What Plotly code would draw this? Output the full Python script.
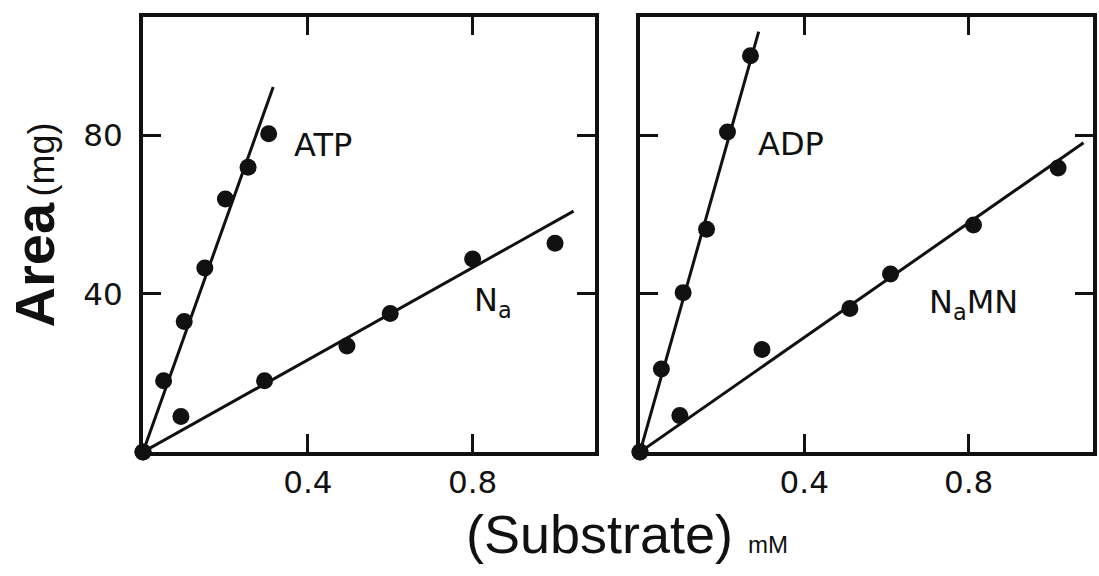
import plotly.graph_objects as go

# ---- data ----
atp_x = [0.0, 0.05, 0.10, 0.15, 0.20, 0.255, 0.305]
atp_y = [0.0, 18.0, 33.0, 46.5, 64.0, 72.0, 80.5]
atp_fit_x = [0.0, 0.316]
atp_fit_y = [0.0, 92.3]

na_x = [0.0, 0.092, 0.295, 0.495, 0.60, 0.80, 1.0]
na_y = [0.0, 9.0, 18.0, 26.8, 35.0, 48.8, 52.8]
na_fit_x = [0.0, 1.045]
na_fit_y = [0.0, 60.9]

adp_x = [0.0, 0.052, 0.105, 0.162, 0.213, 0.269]
adp_y = [0.0, 21.0, 40.3, 56.3, 80.9, 100.2]
adp_fit_x = [0.0, 0.289]
adp_fit_y = [0.0, 106.3]

namn_x = [0.0, 0.097, 0.297, 0.511, 0.61, 0.812, 1.018]
namn_y = [0.0, 9.2, 25.9, 36.3, 45.0, 57.4, 71.8]
namn_fit_x = [0.0, 1.08]
namn_fit_y = [0.0, 78.2]

x_ticks = [0.4, 0.8]
x_ticklabels = ["0.4", "0.8"]
y_ticks = [40, 80]
y_ticklabels = ["40", "80"]

INK = "#111111"
W, H = 1099, 576

fig = go.Figure()

def add_series(xs, ys, fx, fy, xa, ya):
    fig.add_trace(go.Scatter(x=fx, y=fy, mode="lines", xaxis=xa, yaxis=ya,
                             line=dict(color=INK, width=3), cliponaxis=False,
                             hoverinfo="skip"))
    fig.add_trace(go.Scatter(x=xs, y=ys, mode="markers", xaxis=xa, yaxis=ya,
                             marker=dict(color=INK, size=17, line=dict(width=0)),
                             cliponaxis=False))

add_series(atp_x, atp_y, atp_fit_x, atp_fit_y, "x", "y")
add_series(na_x, na_y, na_fit_x, na_fit_y, "x", "y")
add_series(adp_x, adp_y, adp_fit_x, adp_fit_y, "x2", "y2")
add_series(namn_x, namn_y, namn_fit_x, namn_fit_y, "x2", "y2")

tick_font = dict(family="DejaVu Sans", size=31, color=INK)
ax_common = dict(showline=True, linecolor=INK, linewidth=4, mirror="ticks",
                 ticks="inside", ticklen=18, tickwidth=3, tickcolor=INK,
                 showgrid=False, zeroline=False, tickfont=tick_font)

ydom = [1 - 452 / H, 1 - 17 / H]
fig.update_layout(
    width=W, height=H,
    margin=dict(l=0, r=0, t=0, b=0),
    paper_bgcolor="white", plot_bgcolor="white",
    showlegend=False,
    xaxis=dict(domain=[143 / W, 595 / W], range=[0, 1.097],
               tickvals=x_ticks, ticktext=x_ticklabels, anchor="y", **ax_common),
    yaxis=dict(domain=ydom, range=[0, 110], tickvals=y_ticks,
               ticktext=y_ticklabels, anchor="x", ticklabelstandoff=10, **ax_common),
    xaxis2=dict(domain=[640 / W, 1093 / W], range=[0, 1.103],
                tickvals=x_ticks, ticktext=x_ticklabels, anchor="y2", **ax_common),
    yaxis2=dict(domain=ydom, range=[0, 110], tickvals=y_ticks,
                ticktext=y_ticklabels, showticklabels=False, anchor="x2", **ax_common),
)

label_font = dict(family="DejaVu Sans", size=32, color=INK)
fig.add_annotation(x=0.437, y=77.6, xref="x", yref="y", text="ATP",
                   showarrow=False, font=label_font)
fig.add_annotation(x=0.85, y=38.0, xref="x", yref="y", text="N<sub>a</sub>",
                   showarrow=False, font=label_font)
fig.add_annotation(x=0.368, y=78.0, xref="x2", yref="y2", text="ADP",
                   showarrow=False, font=label_font)
fig.add_annotation(x=0.811, y=37.5, xref="x2", yref="y2", text="N<sub>a</sub>MN",
                   showarrow=False, font=label_font)

# axis titles
fig.add_annotation(x=0, y=1 - 265 / H, xref="paper", yref="paper",
                   xanchor="left", yanchor="middle",
                   text="<b>Area</b>", textangle=-90, showarrow=False,
                   font=dict(family="Liberation Sans", size=56, color=INK))
fig.add_annotation(x=18 / W, y=1 - 160 / H, xref="paper", yref="paper",
                   xanchor="left", yanchor="middle",
                   text="(mg)", textangle=-90, showarrow=False,
                   font=dict(family="Liberation Sans Narrow, Liberation Sans",
                             size=36, color=INK))
fig.add_annotation(x=627 / W, y=1 - 534 / H, xref="paper", yref="paper",
                   text="(Substrate) <span style='font-size:24px'>mM</span>",
                   showarrow=False, yanchor="middle",
                   font=dict(family="Liberation Sans", size=54, color=INK))

fig.write_html("out.html")
